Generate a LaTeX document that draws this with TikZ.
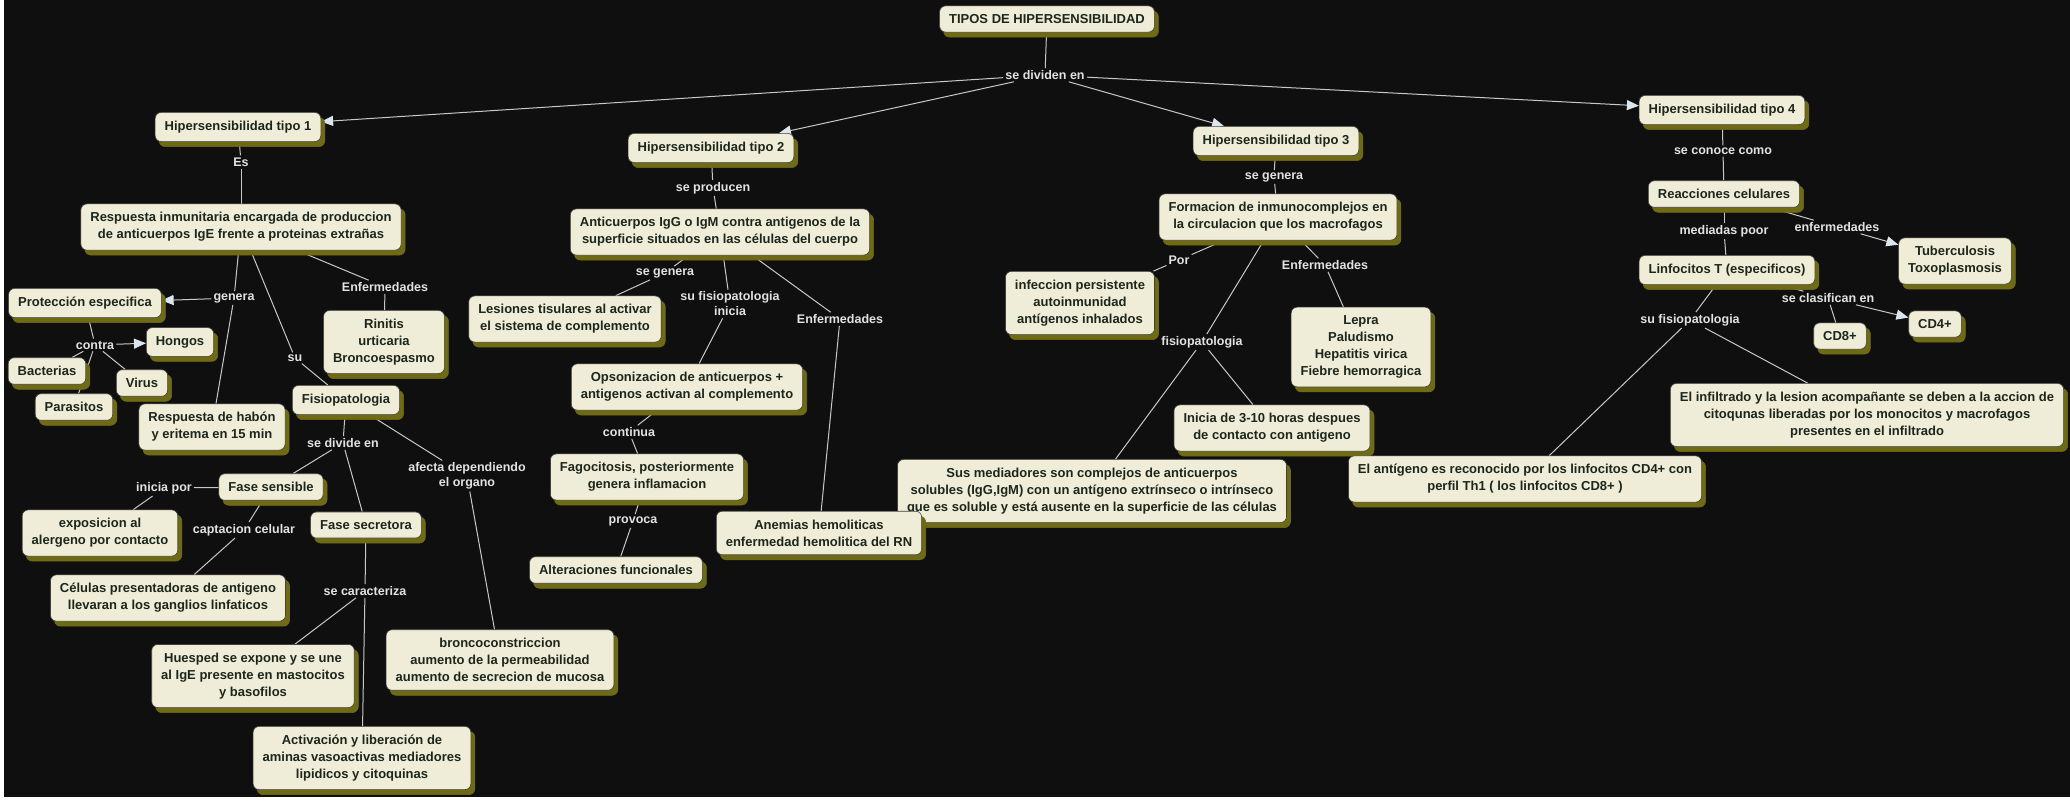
\documentclass[tikz,border=0pt]{standalone}
\usepackage{fontspec}
\setmainfont{Liberation Sans}
\usetikzlibrary{arrows.meta,shadows}
\definecolor{fondo}{HTML}{0F0F0F}
\definecolor{crema}{HTML}{EFEDD7}
\definecolor{oliva}{HTML}{6F6B14}
\definecolor{tinta}{HTML}{1C261C}
\definecolor{linea}{HTML}{C8C8C8}
\definecolor{rotulo}{HTML}{E2E2E2}
\definecolor{punta}{HTML}{DCE6EE}
\pgfdeclarelayer{capafondo}
\pgfdeclarelayer{enlaces}
\pgfsetlayers{capafondo,enlaces,main}
\tikzset{
  concepto/.style={draw=black!75,line width=0.6pt,fill=crema,rounded corners=6pt,text=tinta,
    font=\bfseries\fontsize{13}{17}\selectfont,align=center,inner xsep=9.5pt,inner ysep=8.5pt,
    copy shadow={fill=oliva,draw=oliva,shadow xshift=4pt,shadow yshift=-5pt}},
  frase/.style={text=rotulo,font=\bfseries\fontsize{12.5}{15}\selectfont,align=center,inner sep=2pt},
  enlace/.style={draw=linea,line width=1pt},
  flecha/.style={enlace,-{Triangle[length=12pt,width=10pt,color=punta]}}
}
\begin{document}
\begin{tikzpicture}[x=1pt,y=-1pt]
\useasboundingbox (0,0) rectangle (2070,801);
\begin{pgfonlayer}{capafondo}
\fill[white] (0,0) rectangle (2070,801);
\fill[fondo] (4,0) rectangle (2070,797);
\end{pgfonlayer}

\node[concepto] (tipos) at (1047,19) {TIPOS DE HIPERSENSIBILIDAD};
\node[frase] (divid) at (1045,75) {se dividen en};
\node[concepto] (t1) at (238,127) {Hipersensibilidad tipo 1};
\node[concepto] (t2) at (711,148) {Hipersensibilidad tipo 2};
\node[concepto] (t3) at (1276,141) {Hipersensibilidad tipo 3};
\node[concepto] (t4) at (1722,110) {Hipersensibilidad tipo 4};

\node[frase] (es) at (241,162) {Es};
\node[concepto] (resp) at (241,227) {Respuesta inmunitaria encargada de produccion\\de anticuerpos IgE frente a proteinas extrañas};
\node[frase] (genera) at (234,298) {genera};
\node[concepto] (prot) at (85,303) {Protección especifica};
\node[frase] (enf1) at (385,287) {Enfermedades};
\node[concepto] (rinitis) at (384,342) {Rinitis\\urticaria\\Broncoespasmo};
\node[frase] (contra) at (95,345) {contra};
\node[concepto] (hongos) at (180,342) {Hongos};
\node[concepto] (bacterias) at (47,371) {Bacterias};
\node[concepto] (virus) at (142,383) {Virus};
\node[concepto] (parasitos) at (74,407) {Parasitos};
\node[frase] (su) at (295,358) {su};
\node[concepto] (fisio) at (346,400) {Fisiopatologia};
\node[concepto] (habon) at (212,427) {Respuesta de habón\\y eritema en 15 min};
\node[frase] (divide) at (343,443) {se divide en};
\node[frase] (afecta) at (467,476) {afecta dependiendo\\el organo};
\node[concepto] (fsens) at (271,487) {Fase sensible};
\node[frase] (iniciapor) at (164,488) {inicia por};
\node[concepto] (expo) at (100,533) {exposicion al\\alergeno por contacto};
\node[frase] (captacion) at (244,530) {captacion celular};
\node[concepto] (fsecr) at (366,525) {Fase secretora};
\node[concepto] (celulas) at (168,598) {Células presentadoras de antigeno\\llevaran a los ganglios linfaticos};
\node[frase] (caract) at (365,591) {se caracteriza};
\node[concepto] (huesped) at (253,676) {Huesped se expone y se une\\al IgE presente en mastocitos\\y basofilos};
\node[concepto] (bronco) at (500,660) {broncoconstriccion\\aumento de la permeabilidad\\aumento de secrecion de mucosa};
\node[concepto] (activ) at (362,758) {Activación y liberación de\\aminas vasoactivas mediadores\\lipidicos y citoquinas};

\node[frase] (producen) at (713,188) {se producen};
\node[concepto] (anti) at (720,232) {Anticuerpos IgG o IgM contra antigenos de la\\superficie situados en las células del cuerpo};
\node[frase] (genera2) at (665,273) {se genera};
\node[concepto] (lesiones) at (565,319) {Lesiones tisulares al activar\\el sistema de complemento};
\node[frase] (fisio2) at (730,304) {su fisiopatologia\\inicia};
\node[frase] (enf2) at (840,319) {Enfermedades};
\node[concepto] (opson) at (687,387) {Opsonizacion de anticuerpos +\\antigenos activan al complemento};
\node[frase] (continua) at (629,432) {continua};
\node[concepto] (fago) at (647,477) {Fagocitosis, posteriormente\\genera inflamacion};
\node[frase] (provoca) at (633,521) {provoca};
\node[concepto] (alter) at (616,570) {Alteraciones funcionales};

\node[frase] (genera3) at (1274,177) {se genera};
\node[concepto] (formacion) at (1278,217) {Formacion de inmunocomplejos en\\la circulacion que los macrofagos};
\node[frase] (por) at (1179,260) {Por};
\node[concepto] (infeccion) at (1080,303) {infeccion persistente\\autoinmunidad\\antígenos inhalados};
\node[frase] (enf3) at (1325,265) {Enfermedades};
\node[concepto] (lepra) at (1361,347) {Lepra\\Paludismo\\Hepatitis virica\\Fiebre hemorragica};
\node[frase] (fisio3) at (1202,342) {fisiopatologia};
\node[concepto] (inicia) at (1272,428) {Inicia de 3-10 horas despues\\de contacto con antigeno};
\node[concepto] (mediad) at (1092,491) {Sus mediadores son complejos de anticuerpos\\solubles (IgG,IgM) con un antígeno extrínseco o intrínseco\\que es soluble y está ausente en la superficie de las células};
\node[concepto] (anemias) at (819,533) {Anemias hemoliticas\\enfermedad hemolitica del RN};

\node[frase] (conoce) at (1723,151) {se conoce como};
\node[concepto] (reacc) at (1724,194) {Reacciones celulares};
\node[frase] (mediadas) at (1724,231) {mediadas poor};
\node[frase] (enf4) at (1837,227) {enfermedades};
\node[concepto] (tuber) at (1955,261) {Tuberculosis\\Toxoplasmosis};
\node[concepto] (linfo) at (1727,270) {Linfocitos T (especificos)};
\node[frase] (clasif) at (1828,298) {se clasifican en};
\node[concepto] (cdocho) at (1840,336) {CD8+};
\node[concepto] (cdcuatro) at (1935,324) {CD4+};
\node[frase] (fisio4) at (1690,320) {su fisiopatologia};
\node[concepto] (infiltr) at (1867,415) {El infiltrado y la lesion acompañante se deben a la accion de\\citoqunas liberadas por los monocitos y macrofagos\\presentes en el infiltrado};
\node[concepto] (antigeno) at (1525,479) {El antígeno es reconocido por los linfocitos CD4+ con\\perfil Th1 ( los linfocitos CD8+ )};

\begin{pgfonlayer}{enlaces}
\draw[enlace] (tipos) -- (divid);
\draw[flecha] (divid) -- (t1);
\draw[flecha] (divid) -- (t2);
\draw[flecha] (divid) -- (t3);
\draw[flecha] (divid) -- (t4);
\draw[enlace] (t1) -- (es);
\draw[enlace] (es) -- (resp);
\draw[enlace] (resp) -- (genera);
\draw[flecha] (genera) -- (prot);
\draw[enlace] (genera) -- (habon);
\draw[enlace] (resp) -- (enf1);
\draw[enlace] (enf1) -- (rinitis);
\draw[enlace] (resp) -- (su);
\draw[enlace] (su) -- (fisio);
\draw[enlace] (prot) -- (contra);
\draw[flecha] (contra) -- (hongos);
\draw[enlace] (contra) -- (bacterias);
\draw[enlace] (contra) -- (virus);
\draw[enlace] (contra) -- (parasitos);
\draw[enlace] (fisio) -- (divide);
\draw[enlace] (divide) -- (fsens);
\draw[enlace] (divide) -- (fsecr);
\draw[enlace] (fisio) -- (afecta);
\draw[enlace] (afecta) -- (bronco);
\draw[enlace] (fsens) -- (iniciapor);
\draw[enlace] (iniciapor) -- (expo);
\draw[enlace] (fsens) -- (captacion);
\draw[enlace] (captacion) -- (celulas);
\draw[enlace] (fsecr) -- (caract);
\draw[enlace] (caract) -- (huesped);
\draw[enlace] (caract) -- (activ);
\draw[enlace] (t2) -- (producen);
\draw[enlace] (producen) -- (anti);
\draw[enlace] (anti) -- (genera2);
\draw[enlace] (genera2) -- (lesiones);
\draw[enlace] (anti) -- (fisio2);
\draw[enlace] (fisio2) -- (opson);
\draw[enlace] (anti) -- (enf2);
\draw[enlace] (enf2) -- (anemias);
\draw[enlace] (opson) -- (continua);
\draw[enlace] (continua) -- (fago);
\draw[enlace] (fago) -- (provoca);
\draw[enlace] (provoca) -- (alter);
\draw[enlace] (t3) -- (genera3);
\draw[enlace] (genera3) -- (formacion);
\draw[enlace] (formacion) -- (por);
\draw[enlace] (por) -- (infeccion);
\draw[enlace] (formacion) -- (enf3);
\draw[enlace] (enf3) -- (lepra);
\draw[enlace] (formacion) -- (fisio3);
\draw[enlace] (fisio3) -- (inicia);
\draw[enlace] (fisio3) -- (mediad);
\draw[enlace] (t4) -- (conoce);
\draw[enlace] (conoce) -- (reacc);
\draw[enlace] (reacc) -- (mediadas);
\draw[enlace] (mediadas) -- (linfo);
\draw[enlace] (reacc) -- (enf4);
\draw[flecha] (enf4) -- (tuber);
\draw[enlace] (linfo) -- (clasif);
\draw[enlace] (clasif) -- (cdocho);
\draw[flecha] (clasif) -- (cdcuatro);
\draw[enlace] (linfo) -- (fisio4);
\draw[enlace] (fisio4) -- (antigeno);
\draw[enlace] (fisio4) -- (infiltr);
\end{pgfonlayer}
\end{tikzpicture}
\end{document}
